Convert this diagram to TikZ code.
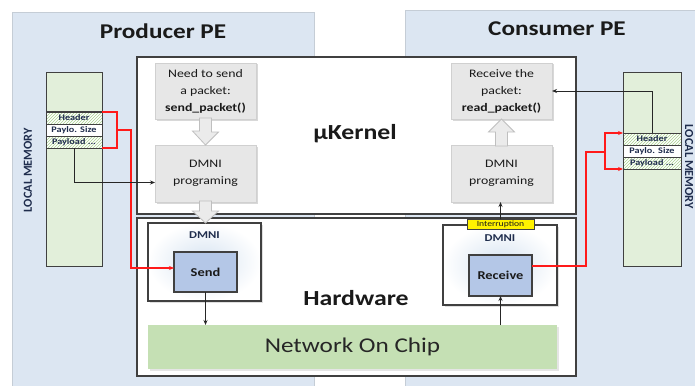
\documentclass[tikz,border=0pt]{standalone}
\usepackage{fontspec}
\setmainfont{Carlito}[FakeStretch=1.2]
\newfontfamily\plainfont{Carlito}
\usetikzlibrary{shadows,patterns,arrows.meta,calc}
\definecolor{panelfill}{HTML}{DCE6F2}
\definecolor{panelborder}{HTML}{C5CDD6}
\definecolor{memfill}{HTML}{E2EFDA}
\definecolor{boxline}{HTML}{404040}
\definecolor{grayfill}{HTML}{E7E7E7}
\definecolor{grayline}{HTML}{D0D0D0}
\definecolor{hwfill}{HTML}{B4C7E7}
\definecolor{nocfill}{HTML}{C5E0B4}
\definecolor{dmniin}{HTML}{D6E3F1}
\definecolor{rowtext}{HTML}{1F2D4D}
\definecolor{hatchcol}{HTML}{A9D18E}
\definecolor{arrowfill}{HTML}{EBEBEB}
\definecolor{arrowline}{HTML}{BFBFBF}
\definecolor{linkred}{HTML}{FF1A1A}
\definecolor{txt}{HTML}{1A1A1A}
\begin{document}
\begin{tikzpicture}[x=1pt,y=-1pt,
  every node/.style={inner sep=0pt, outer sep=0pt, text=txt},
  panel/.style={draw=panelborder, fill=panelfill, line width=0.8pt, anchor=north west},
  title/.style={font=\bfseries\fontsize{21}{24}\selectfont},
  biglabel/.style={font=\bfseries\fontsize{21.5}{24}\selectfont},
  frame/.style={draw=boxline, fill=white, line width=1.3pt, anchor=north west},
  graybox/.style={draw=grayline, fill=grayfill, line width=0.6pt, anchor=north west,
    align=center, font=\fontsize{11.5}{17}\selectfont,
    drop shadow={shadow xshift=1.5pt, shadow yshift=-1.5pt, opacity=0.3}},
  blockarrow/.style={draw=arrowline, fill=arrowfill, line width=0.8pt, line join=miter},
  dmnibox/.style={draw=boxline, line width=1.2pt, anchor=north west,
    inner color=dmniin, outer color=white,
    drop shadow={shadow xshift=1.5pt, shadow yshift=-1.5pt, opacity=0.25}},
  dmnilabel/.style={font=\bfseries\fontsize{10.5}{12}\selectfont, text=rowtext},
  hwbox/.style={draw=boxline, fill=hwfill, line width=1.2pt, anchor=north west,
    font=\bfseries\fontsize{12}{14}\selectfont},
  intrbox/.style={draw=boxline, fill=yellow, line width=0.8pt, anchor=north west,
    font=\fontsize{8}{9}\selectfont},
  nocbox/.style={fill=nocfill, anchor=north west, font=\fontsize{21}{24}\selectfont,
    text=black!85, drop shadow={shadow xshift=1.5pt, shadow yshift=-1.5pt, opacity=0.2}},
  mem/.style={draw=boxline, fill=memfill, line width=1pt, anchor=north west},
  row/.style={draw=boxline, fill=white, line width=1pt, anchor=north west,
    minimum width=56, minimum height=12, font=\bfseries\fontsize{8.5}{9}\selectfont, text=rowtext},
  hrow/.style={row, preaction={fill=white}, pattern=north east lines, pattern color=hatchcol},
  memlabel/.style={font=\plainfont\bfseries\fontsize{12.3}{14}\selectfont, text=rowtext},
  redlink/.style={draw=linkred, line width=1.1pt},
  blink/.style={draw=black!85, line width=0.9pt, -{Stealth[length=5pt,width=4pt]}}
]
\useasboundingbox (0,0) rectangle (695,385);
% panels
\node[panel, minimum width=302, minimum height=380] (prod) at (12,12) {};
\node[panel, minimum width=292, minimum height=380] (cons) at (405,10) {};
\node[title] (prodT) at (163,31) {Producer PE};
\node[title] (consT) at (557,29) {Consumer PE};
% frames
\node[frame, minimum width=439, minimum height=157] (kern) at (137,57) {};
\node[frame, minimum width=439, minimum height=158] (hw) at (137,218) {};
\node[biglabel] (kl) at (355,134) {µKernel};
\node[biglabel] (hl) at (356,298) {Hardware};
% gray boxes
\node[graybox, minimum width=101, minimum height=56] (need) at (155,63)
  {Need to send\\a packet:\\\textbf{send\_packet()}};
\node[graybox, minimum width=101, minimum height=57] (dprogL) at (155,145) {DMNI\\programing};
\node[graybox, minimum width=101, minimum height=56] (recv) at (451,63)
  {Receive the\\packet:\\\textbf{read\_packet()}};
\node[graybox, minimum width=101, minimum height=57] (dprogR) at (451,145) {DMNI\\programing};
% DMNI boxes
\node[dmnibox, minimum width=113, minimum height=78] (dmniL) at (148,223) {};
\node[dmnilabel] (dmniLt) at (204.5,235) {DMNI};
\node[hwbox, minimum width=63, minimum height=40] (send) at (174,252) {Send};
\node[dmnibox, minimum width=114, minimum height=80] (dmniR) at (443,225) {};
\node[dmnilabel] (dmniRt) at (500,238) {DMNI};
\node[hwbox, minimum width=63, minimum height=41] (receive) at (469,255) {Receive};
% block arrows
\draw[blockarrow] ([xshift=-6pt,yshift=1pt]need.south) -- ++(0,13) -- ++(-7,0)
  -- (dprogL.north) -- ++(13,-13) -- ++(-7,0) -- ([xshift=6pt,yshift=1pt]need.south) -- cycle;
\draw[blockarrow] ([xshift=-6pt,yshift=1pt]dprogL.south) -- ++(0,10) -- ++(-7,0)
  -- (dprogL.south |- dmniL.north) -- ++(13,-12) -- ++(-7,0) -- ([xshift=6pt,yshift=1pt]dprogL.south) -- cycle;
\draw[blockarrow] ([xshift=-6pt,yshift=-1pt]dprogR.north) -- ++(0,-14) -- ++(-7,0)
  -- (recv.south) -- ++(13,13) -- ++(-7,0) -- ([xshift=6pt,yshift=-1pt]dprogR.north) -- cycle;
% interruption and NoC
\node[intrbox, minimum width=67, minimum height=10] (intr) at (467,219) {Interruption};
\node[nocbox, minimum width=409, minimum height=44] (noc) at (148,325) {Network On Chip};
% memories
\node[mem, minimum width=56, minimum height=193] (memL) at (46,73) {};
\node[hrow] (hdrL) at (46,112) {Header};
\node[row] (szL) at (46,124) {Paylo. Size};
\node[hrow] (payL) at (46,136) {Payload ...};
\node[mem, minimum width=58, minimum height=193] (memR) at (623,73) {};
\node[hrow, minimum width=58] (hdrR) at (623,133) {Header};
\node[row, minimum width=58] (szR) at (623,145) {Paylo. Size};
\node[hrow, minimum width=58] (payR) at (623,157) {Payload ...};
\node[memlabel, rotate=90] (lmL) at (28,170) {LOCAL MEMORY};
\node[memlabel, rotate=-90] (lmR) at (689,167) {LOCAL MEMORY};
% red links
\coordinate (jL) at (117,130);
\draw[redlink] (hdrL.north east) -- ++(15,0) |- (payL.south east);
\draw[redlink, -{Stealth[length=5pt,width=4pt]}] (jL) -- ++(14,0) |- ([yshift=4pt]send.west);
\coordinate (jR) at (605,152);
\draw[redlink] ([yshift=9.5pt]receive.east) -| ([xshift=-19pt]jR) -- (jR);
\draw[redlink, -{Stealth[length=5pt,width=4pt]}] (jR) |- (hdrR.north west);
\draw[redlink, -{Stealth[length=5pt,width=4pt]}] (jR) |- (payR.south west);
% black links
\draw[blink] (payL.south) |- ([yshift=-9pt]dprogL.west);
\draw[blink] (hdrR.north) |- (recv.east);
\draw[blink] (send.south) -- (send.south |- noc.north);
\draw[blink] (receive.south |- noc.north) -- (receive.south);
\draw[blink] (intr.north) -- (intr.north |- dprogR.south);
\end{tikzpicture}
\end{document}
